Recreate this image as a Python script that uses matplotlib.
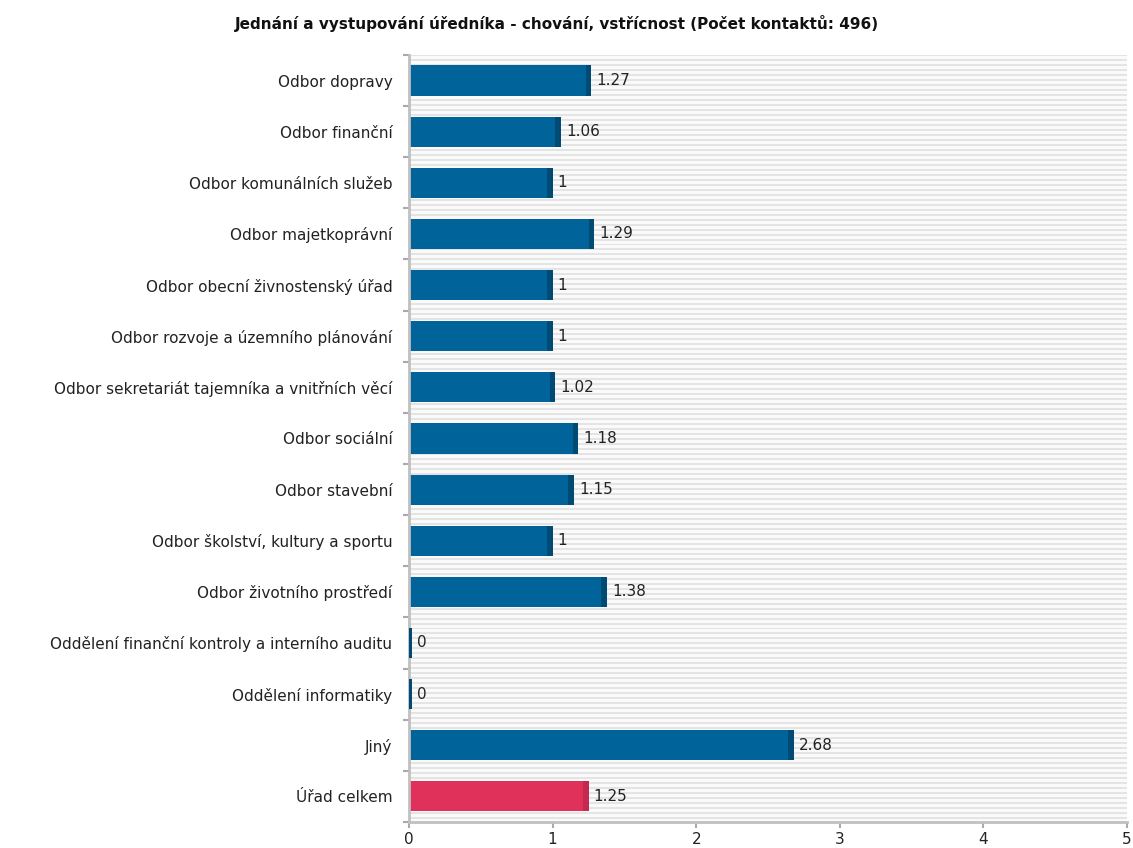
import numpy as np
import matplotlib.pyplot as plt
from matplotlib.colors import ListedColormap
from matplotlib.ticker import FixedLocator

categories = [
    "Odbor dopravy",
    "Odbor finanční",
    "Odbor komunálních služeb",
    "Odbor majetkoprávní",
    "Odbor obecní živnostenský úřad",
    "Odbor rozvoje a územního plánování",
    "Odbor sekretariát tajemníka a vnitřních věcí",
    "Odbor sociální",
    "Odbor stavební",
    "Odbor školství, kultury a sportu",
    "Odbor životního prostředí",
    "Oddělení finanční kontroly a interního auditu",
    "Oddělení informatiky",
    "Jiný",
    "Úřad celkem",
]
values = [1.27, 1.06, 1.0, 1.29, 1.0, 1.0, 1.02, 1.18, 1.15, 1.0, 1.38, 0.0, 0.0, 2.68, 1.25]
value_labels = ["1.27", "1.06", "1", "1.29", "1", "1", "1.02", "1.18", "1.15", "1", "1.38", "0", "0", "2.68", "1.25"]
x_ticks = [0, 1, 2, 3, 4, 5]
title = "Jednání a vystupování úředníka - chování, vstřícnost (Počet kontaktů: 496)"

BLUE, BLUE_DARK = "#006399", "#004a73"
RED, RED_DARK = "#e0315b", "#c42a4f"

fig = plt.figure(figsize=(11.33, 8.48), dpi=100)
ax = fig.add_axes([0.361, 0.0307, 0.6337, 0.9045])

n = len(categories)
ax.set_xlim(0, 5)
ax.set_ylim(n - 0.5, -0.5)

# striped plot background
rows = 154
stripes = np.zeros((rows * 5, 1))
for i in range(rows):
    stripes[i * 5:i * 5 + 2, 0] = 1
ax.imshow(stripes, cmap=ListedColormap(["#fafafa", "#e4e4e4"]),
          extent=[0, 5, n - 0.5, -0.5], aspect="auto", interpolation="nearest", zorder=0)

cap = 0.04
ypos = np.arange(n)
for y, v, lab in zip(ypos, values, value_labels):
    main_c, cap_c = (RED, RED_DARK) if y == n - 1 else (BLUE, BLUE_DARK)
    ax.barh(y, v, height=0.59, color=main_c, edgecolor="none", zorder=2)
    cap_left = max(v - cap, 0)
    cap_w = max(v - cap_left, 0.018)
    ax.barh(y, cap_w, left=cap_left, height=0.59, color=cap_c, edgecolor="none", zorder=3)
    ax.text(max(v, 0.018) + 0.035, y, lab, va="center", ha="left", fontsize=11,
            color="#222222", zorder=4)

ax.set_yticks(ypos)
ax.set_yticklabels(categories, fontsize=11, color="#222222")
ax.tick_params(axis="y", which="major", length=0, pad=12)
ax.yaxis.set_minor_locator(FixedLocator(np.arange(-0.5, n, 1.0)))
ax.tick_params(axis="y", which="minor", length=4, color="#aaaaaa", width=1.5)

ax.set_xticks(x_ticks)
ax.set_xticklabels([str(t) for t in x_ticks], fontsize=11, color="#222222")
ax.tick_params(axis="x", length=4, color="#aaaaaa", width=1.5, pad=3)

for side in ["top", "right"]:
    ax.spines[side].set_visible(False)
for side in ["left", "bottom"]:
    ax.spines[side].set_color("#c0c0c0")
    ax.spines[side].set_linewidth(2)

fig.text(0.492, 0.972, title, ha="center", va="center", fontsize=11,
         fontweight="bold", color="#111111")

fig.savefig("out.png", dpi=100)
